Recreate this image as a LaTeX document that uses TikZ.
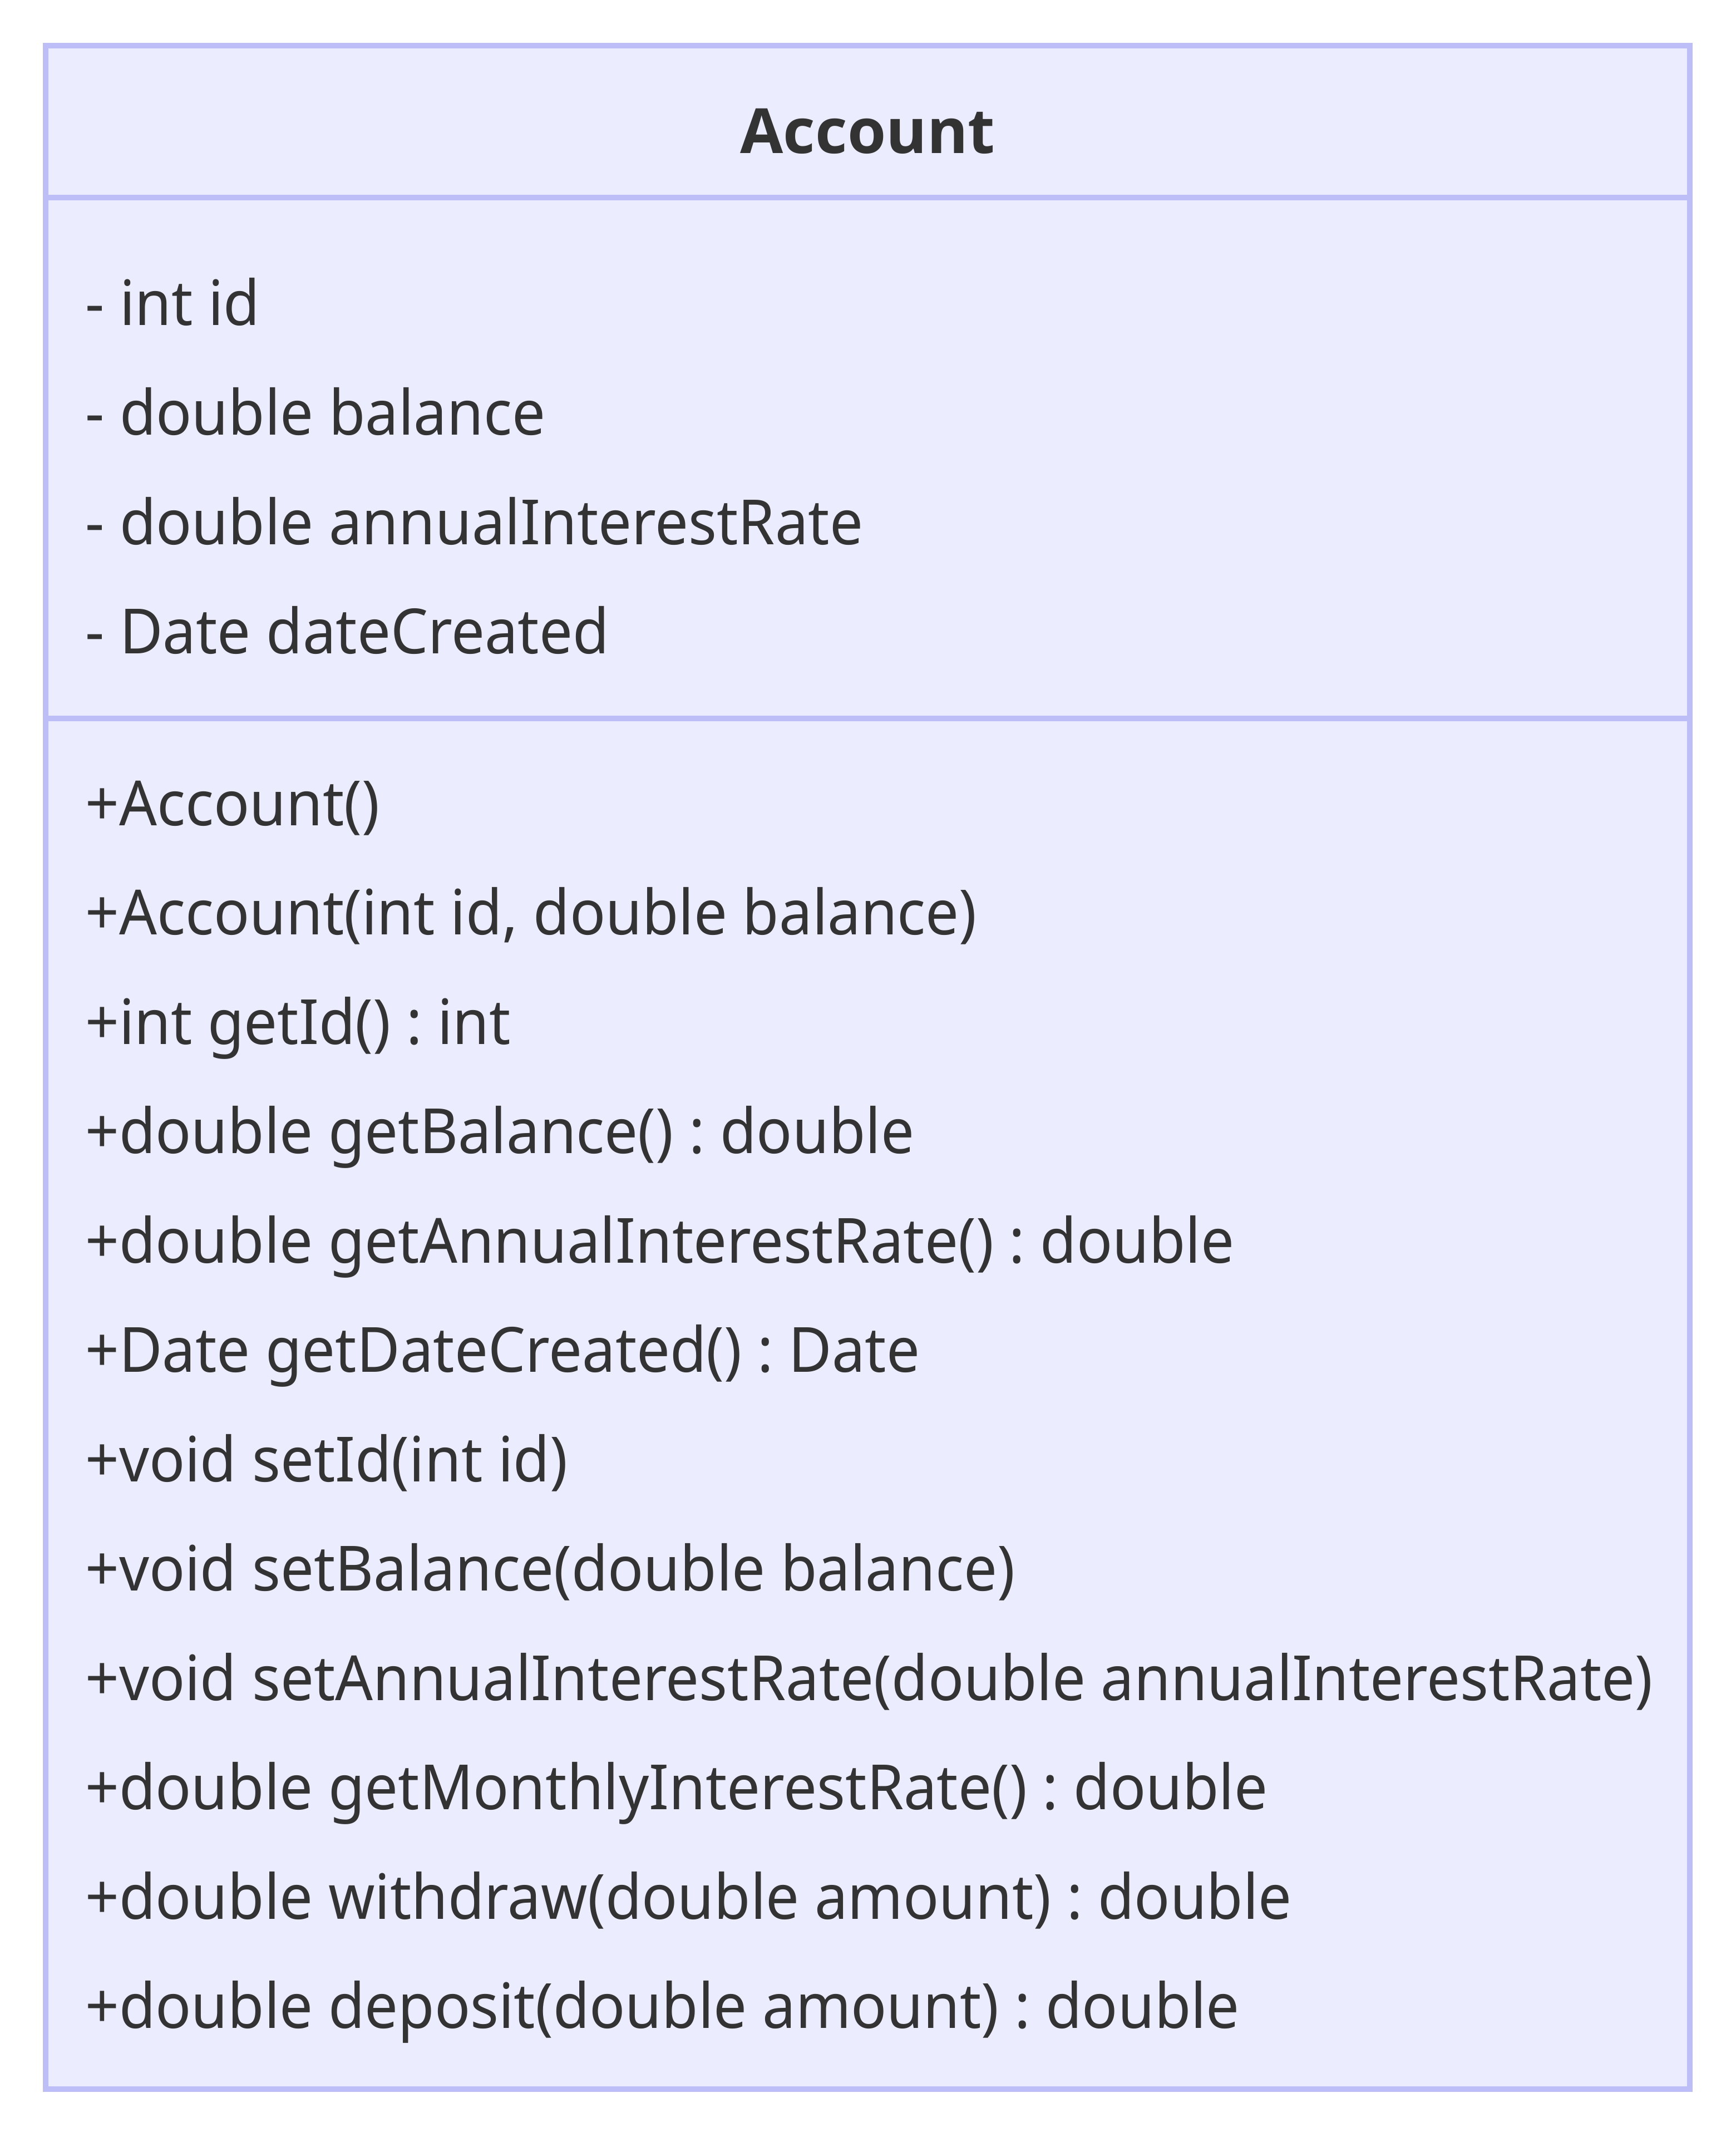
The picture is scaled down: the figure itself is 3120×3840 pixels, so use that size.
\documentclass[tikz,border=0pt]{standalone}
\usepackage{fontspec}
\setmainfont{Noto Sans}[FakeStretch=0.95]
\newfontfamily\titlefont{Open Sans}
\definecolor{boxfill}{RGB}{236,236,255}
\definecolor{boxline}{RGB}{189,189,248}
\definecolor{txt}{RGB}{51,51,51}
\frenchspacing
\begin{document}
\begin{tikzpicture}[x=1pt,y=-1pt,
  member/.style={anchor=base west, inner sep=0pt, font=\fontsize{112}{134}\selectfont, text=txt},
  titletext/.style={anchor=base, inner sep=0pt, font=\titlefont\bfseries\fontsize{112}{134}\selectfont, text=txt},
  frame/.style={draw=boxline, fill=boxfill, line width=9.5pt, inner sep=0pt, outer sep=0pt},
  divider/.style={draw=boxline, line width=9.5pt}]
\useasboundingbox (0,0) rectangle (3120,3840);
\fill[white] (0,0) rectangle (3120,3840);
\node[frame, minimum width=2955pt, minimum height=3672pt, anchor=north west] (box) at (82,82) {};
\coordinate (d1) at (82,355);
\coordinate (d2) at (82,1291);
\draw[divider] (d1) -- (d1 -| box.east);
\draw[divider] (d2) -- (d2 -| box.east);
\node[titletext] (title) at (1559.5,276) {Account};
\node[member] (a1) at (153,584) {- int id};
\node[member] (a2) at (153,781) {- double balance};
\node[member] (a3) at (153,978) {- double annualInterestRate};
\node[member] (a4) at (153,1174) {- Date dateCreated};
\node[member] (m1) at (153,1483) {+Account()};
\node[member] (m2) at (153,1679.5) {+Account(int id, double balance)};
\node[member] (m3) at (153,1876) {+int getId() : int};
\node[member] (m4) at (153,2072.5) {+double getBalance() : double};
\node[member] (m5) at (153,2269) {+double getAnnualInterestRate() : double};
\node[member] (m6) at (153,2465.5) {+Date getDateCreated() : Date};
\node[member] (m7) at (153,2662) {+void setId(int id)};
\node[member] (m8) at (153,2858.5) {+void setBalance(double balance)};
\node[member] (m9) at (153,3055) {+void setAnnualInterestRate(double annualInterestRate)};
\node[member] (m10) at (153,3251.5) {+double getMonthlyInterestRate() : double};
\node[member] (m11) at (153,3448) {+double withdraw(double amount) : double};
\node[member] (m12) at (153,3644.5) {+double deposit(double amount) : double};
\end{tikzpicture}
\end{document}
